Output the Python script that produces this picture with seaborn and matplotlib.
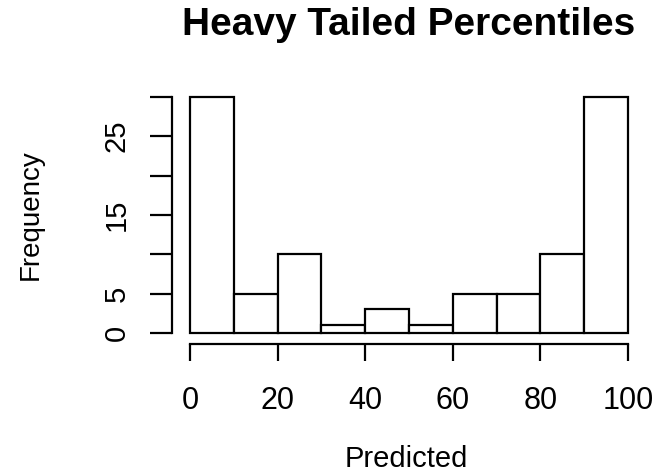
import matplotlib
matplotlib.use("Agg")
import matplotlib.pyplot as plt
import seaborn as sns
import pandas as pd

# Histogram bins (percentile classes) and their counts
bin_edges = [0, 10, 20, 30, 40, 50, 60, 70, 80, 90, 100]
bin_counts = [30, 5, 10, 1, 3, 1, 5, 5, 10, 30]
x_ticks = [0, 20, 40, 60, 80, 100]
y_ticks = [0, 5, 10, 15, 20, 25, 30]
y_tick_labels = ["0", "5", "", "15", "", "25", ""]

sns.set_theme(style="white")
plt.rcParams["font.family"] = ["Liberation Sans", "DejaVu Sans"]

centers = [(a + b) / 2 for a, b in zip(bin_edges[:-1], bin_edges[1:])]
df = pd.DataFrame({"Predicted": centers, "count": bin_counts})

fig = plt.figure(figsize=(6.58, 4.75), dpi=100)
ax = fig.add_axes([0.2622, 0.2792, 0.7188, 0.5368])

lw = 1.6
sns.histplot(data=df, x="Predicted", weights="count", bins=bin_edges,
             color="white", edgecolor="black", linewidth=lw, alpha=1,
             ax=ax)

ax.set_xlim(-4, 104)
ax.set_ylim(-1.2, 31.2)

# R-style axes: only the data range is drawn, detached from the bars
for side in ("top", "right"):
    ax.spines[side].set_visible(False)
ax.spines["left"].set_bounds(0, 30)
ax.spines["bottom"].set_bounds(0, 100)
for side in ("left", "bottom"):
    ax.spines[side].set_linewidth(lw)
    ax.spines[side].set_color("black")
ax.spines["left"].set_position(("outward", 0.5))
ax.spines["bottom"].set_position(("outward", 1.2))

ax.set_xticks(x_ticks)
ax.set_yticks(y_ticks)
ax.set_yticklabels(y_tick_labels, rotation=90, va="center")
ax.tick_params(axis="both", direction="out", width=lw, color="black",
               labelcolor="black", left=True, bottom=True)
ax.tick_params(axis="x", length=12, pad=18, labelsize=22)
ax.tick_params(axis="y", length=15.8, pad=14, labelsize=21)

ax.set_xlabel("Predicted", fontsize=21, color="black")
ax.xaxis.label.set_va("baseline")
ax.xaxis.set_label_coords(0.495, -0.489)

ax.set_ylabel("Frequency", fontsize=20, color="black")
ax.yaxis.set_label_coords(-0.272, 0.5)

ax.set_title("Heavy Tailed Percentiles", fontsize=28, fontweight="bold",
             color="black", y=1.2064, pad=0)

fig.savefig("out.png", dpi=100, facecolor="white")
